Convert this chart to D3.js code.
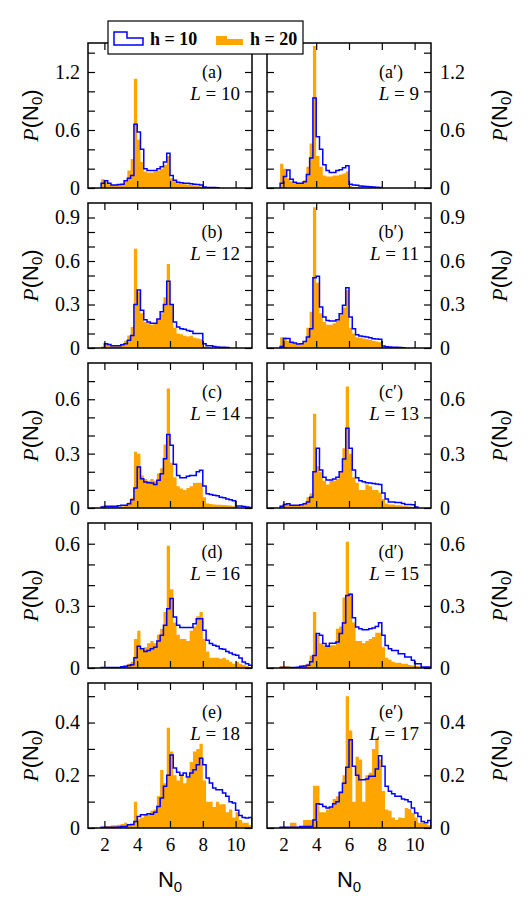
<!DOCTYPE html>
<html><head><meta charset="utf-8">
<script src="https://cdn.jsdelivr.net/npm/d3@7"></script>
<style>body{margin:0;background:#fff;} svg{display:block;}</style>
</head><body>
<svg id="chart" width="528" height="904"></svg>
<script>
// ---------- data ----------
const binLefts = [1.0,1.2,1.4,1.6,1.8,2.0,2.2,2.4,2.6,2.8,3.0,3.2,3.4,3.6,3.8,4.0,4.2,4.4,4.6,4.8,
  5.0,5.2,5.4,5.6,5.8,6.0,6.2,6.4,6.6,6.8,7.0,7.2,7.4,7.6,7.8,8.0,8.2,8.4,8.6,8.8,
  9.0,9.2,9.4,9.6,9.8,10.0,10.2,10.4,10.6,10.8];
const binWidth = 0.2;

const h10_a  = [0,0,0,0,0.05,0.075,0.05,0.03,0.03,0.035,0.04,0.075,0.1,0.13,0.66,0.58,0.4,0.2,0.18,0.18,0.18,0.2,0.22,0.27,0.36,0.13,0.08,0.06,0.055,0.05,0.05,0.045,0.04,0.035,0.03,0.01,0.006,0.005,0.004,0.003,0,0,0,0,0,0,0,0,0,0];
const h20_a  = [0,0,0,0,0.09,0.06,0.04,0.03,0.03,0.035,0.04,0.07,0.18,0.3,1.13,0.5,0.27,0.17,0.16,0.16,0.17,0.18,0.2,0.24,0.33,0.1,0.07,0.05,0.045,0.04,0.035,0.03,0.025,0.02,0.015,0.005,0,0,0,0,0,0,0,0,0,0,0,0,0,0];
const h10_a2 = [0,0,0,0,0.05,0.12,0.185,0.09,0.06,0.05,0.05,0.065,0.14,0.31,0.93,0.53,0.4,0.24,0.18,0.16,0.16,0.18,0.19,0.21,0.23,0.04,0.03,0.028,0.02,0.018,0.015,0.012,0.01,0.008,0.004,0,0,0,0,0,0,0,0,0,0,0,0,0,0,0];
const h20_a2 = [0,0,0,0,0.25,0.2,0.1,0.07,0.05,0.045,0.05,0.08,0.22,0.46,1.47,0.33,0.22,0.13,0.12,0.12,0.13,0.13,0.14,0.15,0.17,0.02,0.01,0.01,0.005,0.005,0,0,0,0,0,0,0,0,0,0,0,0,0,0,0,0,0,0,0,0];
const h10_b  = [0,0,0,0,0,0.03,0.025,0.016,0.016,0.016,0.023,0.03,0.053,0.087,0.3,0.4,0.26,0.195,0.18,0.17,0.17,0.2,0.25,0.3,0.46,0.3,0.18,0.145,0.133,0.13,0.12,0.115,0.1,0.1,0.1,0.03,0.016,0.016,0.01,0.007,0.006,0.005,0.003,0,0,0,0,0,0,0];
const h20_b  = [0,0,0,0,0.01,0.03,0.02,0.015,0.015,0.02,0.03,0.05,0.087,0.145,0.685,0.39,0.24,0.18,0.17,0.16,0.17,0.2,0.24,0.35,0.58,0.3,0.14,0.1,0.095,0.085,0.08,0.085,0.07,0.065,0.06,0.01,0.005,0,0,0,0,0,0,0,0,0,0,0,0,0];
const h10_b2 = [0,0,0,0,0.01,0.065,0.065,0.04,0.035,0.028,0.03,0.045,0.076,0.133,0.485,0.494,0.283,0.214,0.19,0.186,0.186,0.195,0.237,0.294,0.416,0.214,0.133,0.092,0.083,0.08,0.076,0.07,0.064,0.062,0.06,0.014,0.008,0.007,0.005,0.005,0.004,0.002,0,0,0,0,0,0,0,0];
const h20_b2 = [0,0,0,0,0.075,0.075,0.05,0.035,0.03,0.025,0.03,0.04,0.14,0.25,0.97,0.45,0.24,0.18,0.16,0.16,0.17,0.19,0.23,0.28,0.4,0.14,0.1,0.075,0.07,0.065,0.06,0.055,0.05,0.045,0.04,0.005,0,0,0,0,0,0,0,0,0,0,0,0,0,0];
const h10_c  = [0,0,0,0,0.005,0.01,0.01,0.01,0.01,0.012,0.015,0.015,0.024,0.046,0.11,0.226,0.162,0.143,0.14,0.138,0.129,0.153,0.189,0.272,0.406,0.346,0.241,0.18,0.167,0.167,0.175,0.18,0.18,0.2,0.208,0.121,0.079,0.075,0.07,0.068,0.06,0.057,0.05,0.046,0.04,0.011,0.011,0.008,0.005,0.003];
const h20_c  = [0,0,0,0,0.01,0.008,0.006,0.005,0.005,0.006,0.008,0.015,0.03,0.055,0.31,0.3,0.18,0.16,0.15,0.16,0.15,0.19,0.22,0.35,0.66,0.25,0.17,0.12,0.107,0.1,0.11,0.12,0.138,0.14,0.14,0.06,0.025,0.022,0.02,0.018,0.018,0.016,0.015,0.014,0.01,0.004,0,0,0,0];
const h10_c2 = [0,0,0,0,0.01,0.02,0.024,0.015,0.015,0.015,0.018,0.024,0.033,0.06,0.2,0.33,0.21,0.17,0.155,0.155,0.16,0.17,0.2,0.27,0.44,0.33,0.21,0.167,0.15,0.145,0.14,0.138,0.135,0.132,0.13,0.083,0.05,0.033,0.033,0.03,0.03,0.025,0.02,0.02,0.018,0.005,0,0,0,0];
const h20_c2 = [0,0,0,0,0.015,0.025,0.02,0.015,0.012,0.012,0.015,0.025,0.06,0.08,0.52,0.23,0.2,0.15,0.13,0.15,0.15,0.16,0.2,0.33,0.67,0.3,0.17,0.14,0.1,0.1,0.13,0.12,0.1,0.1,0.085,0.05,0.025,0.02,0.02,0.015,0.015,0.012,0.01,0.008,0.005,0,0,0,0,0];
const h10_d  = [0,0,0,0,0.002,0.003,0.003,0.003,0.003,0.003,0.006,0.008,0.012,0.016,0.05,0.105,0.093,0.08,0.085,0.093,0.1,0.13,0.158,0.206,0.286,0.335,0.246,0.206,0.195,0.195,0.195,0.195,0.214,0.238,0.238,0.182,0.134,0.118,0.11,0.105,0.093,0.09,0.08,0.072,0.065,0.061,0.048,0.029,0.02,0.013];
const h20_d  = [0,0,0,0,0.003,0.003,0.003,0.003,0.003,0.005,0.008,0.01,0.02,0.03,0.14,0.18,0.09,0.1,0.12,0.13,0.12,0.16,0.19,0.27,0.59,0.38,0.22,0.16,0.14,0.14,0.13,0.18,0.2,0.25,0.27,0.14,0.08,0.05,0.05,0.05,0.045,0.05,0.04,0.03,0.02,0.03,0.02,0.015,0.01,0.005];
const h10_d2 = [0,0,0,0,0.003,0.003,0.003,0.003,0.003,0.004,0.008,0.01,0.013,0.03,0.06,0.166,0.158,0.118,0.105,0.12,0.12,0.125,0.166,0.217,0.35,0.356,0.243,0.198,0.19,0.185,0.185,0.19,0.193,0.2,0.219,0.158,0.109,0.093,0.085,0.085,0.069,0.069,0.053,0.053,0.037,0.021,0.021,0.005,0.005,0.005];
const h20_d2 = [0,0,0,0,0.01,0.01,0.008,0.005,0.005,0.006,0.008,0.012,0.02,0.06,0.27,0.16,0.12,0.11,0.11,0.11,0.11,0.19,0.2,0.34,0.61,0.36,0.22,0.13,0.13,0.12,0.13,0.14,0.15,0.17,0.17,0.1,0.05,0.04,0.03,0.025,0.025,0.02,0.02,0.015,0.012,0.01,0.008,0.005,0.003,0];
const h10_e  = [0,0,0,0,0.003,0.003,0.003,0.003,0.003,0.004,0.006,0.006,0.012,0.013,0.025,0.044,0.05,0.05,0.054,0.052,0.06,0.082,0.114,0.158,0.2,0.277,0.228,0.211,0.2,0.209,0.193,0.209,0.221,0.24,0.265,0.24,0.19,0.171,0.152,0.145,0.145,0.133,0.12,0.1,0.095,0.067,0.047,0.04,0.038,0.04];
const h20_e  = [0,0,0,0,0.004,0.008,0.008,0.01,0.01,0.012,0.015,0.02,0.012,0.015,0.1,0.035,0.04,0.05,0.05,0.065,0.07,0.12,0.22,0.17,0.38,0.29,0.2,0.18,0.2,0.17,0.19,0.25,0.29,0.3,0.32,0.18,0.1,0.1,0.08,0.1,0.09,0.09,0.06,0.07,0.04,0.06,0.03,0.02,0.02,0.01];
const h10_e2 = [0,0,0,0,0.003,0.003,0.003,0.003,0.003,0.003,0.006,0.006,0.006,0.006,0.03,0.092,0.09,0.082,0.076,0.08,0.092,0.1,0.135,0.17,0.23,0.335,0.234,0.2,0.183,0.183,0.186,0.196,0.196,0.224,0.274,0.234,0.158,0.139,0.13,0.12,0.12,0.11,0.107,0.1,0.076,0.057,0.044,0.025,0.02,0.028];
const h20_e2 = [0,0,0,0,0.005,0.005,0.003,0.02,0.02,0.005,0.005,0.03,0.03,0.03,0.16,0.16,0.06,0.06,0.07,0.08,0.11,0.12,0.14,0.2,0.5,0.37,0.1,0.27,0.26,0.1,0.2,0.21,0.3,0.34,0.26,0.14,0.07,0.065,0.04,0.03,0.04,0.038,0.076,0.072,0.057,0.04,0.02,0.02,0.015,0.01];

const panelTags = ["(a)","(a\u2032)","(b)","(b\u2032)","(c)","(c\u2032)","(d)","(d\u2032)","(e)","(e\u2032)"];
const panelL    = ["10","9","12","11","14","13","16","15","18","17"];
const h10Series = [h10_a,h10_a2,h10_b,h10_b2,h10_c,h10_c2,h10_d,h10_d2,h10_e,h10_e2];
const h20Series = [h20_a,h20_a2,h20_b,h20_b2,h20_c,h20_c2,h20_d,h20_d2,h20_e,h20_e2];

const rowYMax    = [1.5, 1.0, 0.8, 0.7, 0.55];
const rowYTicks  = [[0,0.2,0.4,0.6,0.8,1.0,1.2,1.4],
                    [0,0.1,0.2,0.3,0.4,0.5,0.6,0.7,0.8,0.9],
                    [0,0.1,0.2,0.3,0.4,0.5,0.6,0.7],
                    [0,0.1,0.2,0.3,0.4,0.5,0.6],
                    [0,0.1,0.2,0.3,0.4,0.5]];
const rowYLabels = [[0,0.6,1.2],[0,0.3,0.6,0.9],[0,0.3,0.6],[0,0.3,0.6],[0,0.2,0.4]];
const xTicks = [2,4,6,8,10];
const xDomain = [1, 11];
const legendLabels = ["h = 10", "h = 20"];

// ---------- layout ----------
const colLeft = [88, 267];
const panelW = 164;
const rowTop0 = 43, rowStep = 160, panelH = 145;
const BLUE = "#0000ff", ORANGE = "#ffa500";
const serif = "'Liberation Serif','Times New Roman',serif";
const sans = "'Liberation Sans',Arial,Helvetica,sans-serif";

const svg = d3.select("#chart");
const defs = svg.append("defs");

panelTags.forEach((tag, k) => {
  const row = Math.floor(k / 2), col = k % 2;
  const x0 = colLeft[col], x1 = x0 + panelW;
  const y0 = rowTop0 + row * rowStep, y1 = y0 + panelH;
  const x = d3.scaleLinear().domain(xDomain).range([x0, x1]);
  const y = d3.scaleLinear().domain([0, rowYMax[row]]).range([y1, y0]);

  const clipId = "clip" + k;
  defs.append("clipPath").attr("id", clipId)
    .append("rect").attr("x", x0).attr("y", y0).attr("width", panelW).attr("height", panelH);

  const g = svg.append("g");
  const h10 = h10Series[k], h20 = h20Series[k];

  const stepPts = vals => {
    const pts = [[binLefts[0], 0]];
    vals.forEach((v, i) => { pts.push([binLefts[i], v]); pts.push([binLefts[i] + binWidth, v]); });
    pts.push([binLefts[binLefts.length - 1] + binWidth, 0]);
    return pts;
  };

  const area = d3.area().x(d => x(d[0])).y0(y(0)).y1(d => y(d[1]));
  g.append("path").attr("clip-path", `url(#${clipId})`)
    .attr("d", area(stepPts(h20))).attr("fill", ORANGE).attr("stroke", "none");

  let first = h10.findIndex(v => v > 0);
  let last = h10.length - 1; while (last > 0 && h10[last] === 0) last--;
  const bpts = [[binLefts[first], 0]];
  for (let i = first; i <= last; i++) { bpts.push([binLefts[i], h10[i]]); bpts.push([binLefts[i] + binWidth, h10[i]]); }
  bpts.push([binLefts[last] + binWidth, 0]);
  const line = d3.line().x(d => x(d[0])).y(d => y(d[1]));
  g.append("path").attr("clip-path", `url(#${clipId})`)
    .attr("d", line(bpts)).attr("fill", "none").attr("stroke", BLUE)
    .attr("stroke-width", 1.5).attr("stroke-linejoin", "miter");

  const labels = rowYLabels[row];
  const fmtY = v => labels.some(l => Math.abs(l - v) < 1e-9) ? String(v) : "";
  const none = () => "";
  const styleAxis = (sel, fs) => {
    sel.select(".domain").remove();
    sel.selectAll(".tick line").attr("stroke", "#000").attr("stroke-width", 1.2);
    sel.selectAll("text").attr("font-family", serif).attr("font-size", fs).attr("fill", "#000");
    sel.selectAll("text").filter(function () { return this.textContent === ""; }).remove();
  };
  const aL = g.append("g").attr("transform", `translate(${x0},0)`)
    .call(d3.axisLeft(y).tickValues(rowYTicks[row]).tickSize(-7).tickPadding(8).tickFormat(col === 0 ? fmtY : none));
  styleAxis(aL, 20);
  const aR = g.append("g").attr("transform", `translate(${x1},0)`)
    .call(d3.axisRight(y).tickValues(rowYTicks[row]).tickSize(-7).tickPadding(9).tickFormat(col === 1 ? fmtY : none));
  styleAxis(aR, 20);
  const aT = g.append("g").attr("transform", `translate(0,${y0})`)
    .call(d3.axisTop(x).tickValues(xTicks).tickSize(-7).tickFormat(none));
  styleAxis(aT, 19);
  const aB = g.append("g").attr("transform", `translate(0,${y1})`)
    .call(d3.axisBottom(x).tickValues(xTicks).tickSize(-7).tickPadding(10).tickFormat(row === 4 ? d3.format("d") : none));
  styleAxis(aB, 19);

  g.append("rect").attr("x", x0).attr("y", y0).attr("width", panelW).attr("height", panelH)
    .attr("fill", "none").attr("stroke", "#000").attr("stroke-width", 1.5);

  // panel labels
  g.append("text").attr("x", x1 - 40).attr("y", y0 + 35).attr("text-anchor", "middle")
    .attr("font-family", serif).attr("font-size", 18).text(tag);
  const lt = g.append("text").attr("x", x1 - 12).attr("y", y0 + 57).attr("text-anchor", "end")
    .attr("font-family", serif).attr("font-size", 19);
  lt.append("tspan").attr("font-style", "italic").text("L");
  lt.append("tspan").text(" = " + panelL[k]);

  // y titles
  const yc = (y0 + y1) / 2;
  const tx = col === 0 ? 30 : 499;
  const yt = svg.append("text").attr("transform", `translate(${tx},${yc}) rotate(-90)`)
    .attr("text-anchor", "middle").attr("dy", "0.35em").attr("font-size", 22);
  yt.append("tspan").attr("font-family", serif).attr("font-style", "italic").text("P");
  yt.append("tspan").attr("font-family", sans).text("(N");
  yt.append("tspan").attr("font-family", sans).attr("font-size", 15).attr("dy", "0.3em").text("0");
  yt.append("tspan").attr("font-family", sans).attr("dy", "-0.2em").text(")");

  if (row === 4) {
    const xt = svg.append("text").attr("x", (x0 + x1) / 2).attr("y", 887).attr("text-anchor", "middle")
      .attr("font-family", sans).attr("font-size", 22);
    xt.append("tspan").text("N");
    xt.append("tspan").attr("font-size", 15).attr("dy", "0.3em").text("0");
  }
});

// ---------- legend ----------
const lg = svg.append("g");
lg.append("rect").attr("x", 108).attr("y", 21).attr("width", 195).attr("height", 33)
  .attr("fill", "#fff").attr("stroke", "#000").attr("stroke-width", 1.2);
lg.append("path").attr("d", "M114,45 V32 H127 V38 H143 V45 Z")
  .attr("fill", "none").attr("stroke", BLUE).attr("stroke-width", 1.5);
lg.append("text").attr("x", 150).attr("y", 45).attr("font-family", serif).attr("font-weight", "bold")
  .attr("font-size", 18).text(legendLabels[0]);
lg.append("path").attr("d", "M216,45 V36 H227 V39 H243 V45 Z").attr("fill", ORANGE);
lg.append("text").attr("x", 250).attr("y", 45).attr("font-family", serif).attr("font-weight", "bold")
  .attr("font-size", 18).text(legendLabels[1]);
</script>
</body></html>
